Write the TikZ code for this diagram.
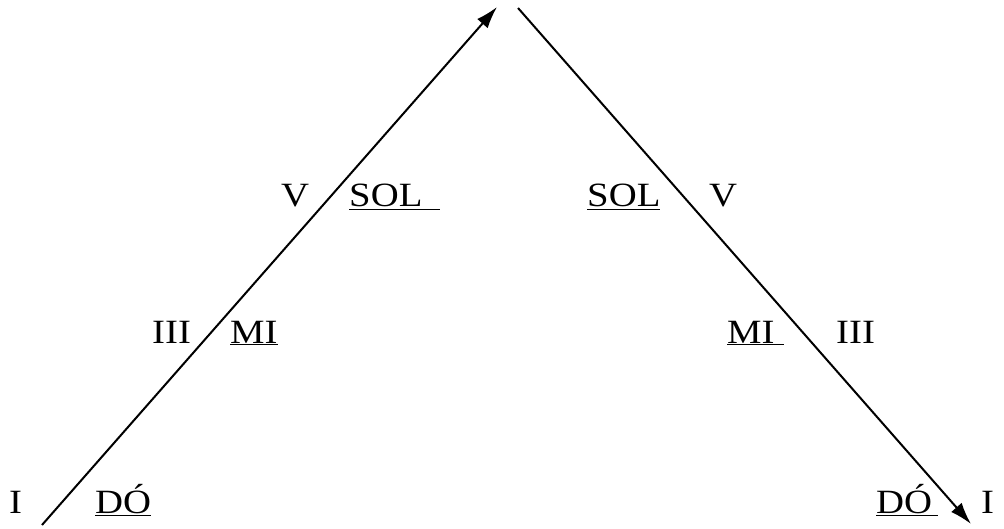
\documentclass[tikz,border=0pt]{standalone}
\usepackage{fontspec}
\setmainfont{Liberation Serif}
\usetikzlibrary{arrows.meta}
\begin{document}
\begin{tikzpicture}[x=1pt,y=1pt,
  lbl/.style={anchor=base west,inner sep=0pt,font=\fontsize{34}{40}\selectfont,xscale=1.14,transform shape},
  arr/.style={line width=2pt,-{Latex[length=22pt,width=14pt]}}]
\useasboundingbox (0,0) rectangle (1004,528);
\coordinate (l0) at (42,3);
\coordinate (l1) at (497,521);
\coordinate (r0) at (518,520);
\coordinate (r1) at (971,4);
\draw[arr] (l0) -- (l1);
\draw[arr] (r0) -- (r1);
% left side
\node[lbl] (i1) at (9,15) {I};
\node[lbl] (do1) at (95,15) {\underline{DÓ}};
\node[lbl] (iii1) at (152,185) {III};
\node[lbl] (mi1) at (230,185) {\underline{MI}};
\node[lbl] (v1) at (281,321) {V};
\node[lbl] (sol1) at (349,321) {\underline{SOL\hspace{0.45em}}};
% right side
\node[lbl] (sol2) at (587,321) {\underline{SOL}};
\node[lbl] (v2) at (709,321) {V};
\node[lbl] (mi2) at (727,185) {\underline{MI\hspace{0.25em}}};
\node[lbl] (iii2) at (836,185) {III};
\node[lbl] (do2) at (876,15) {\underline{DÓ\hspace{0.15em}}};
\node[lbl] (i2) at (981,15) {I};
\end{tikzpicture}
\end{document}
